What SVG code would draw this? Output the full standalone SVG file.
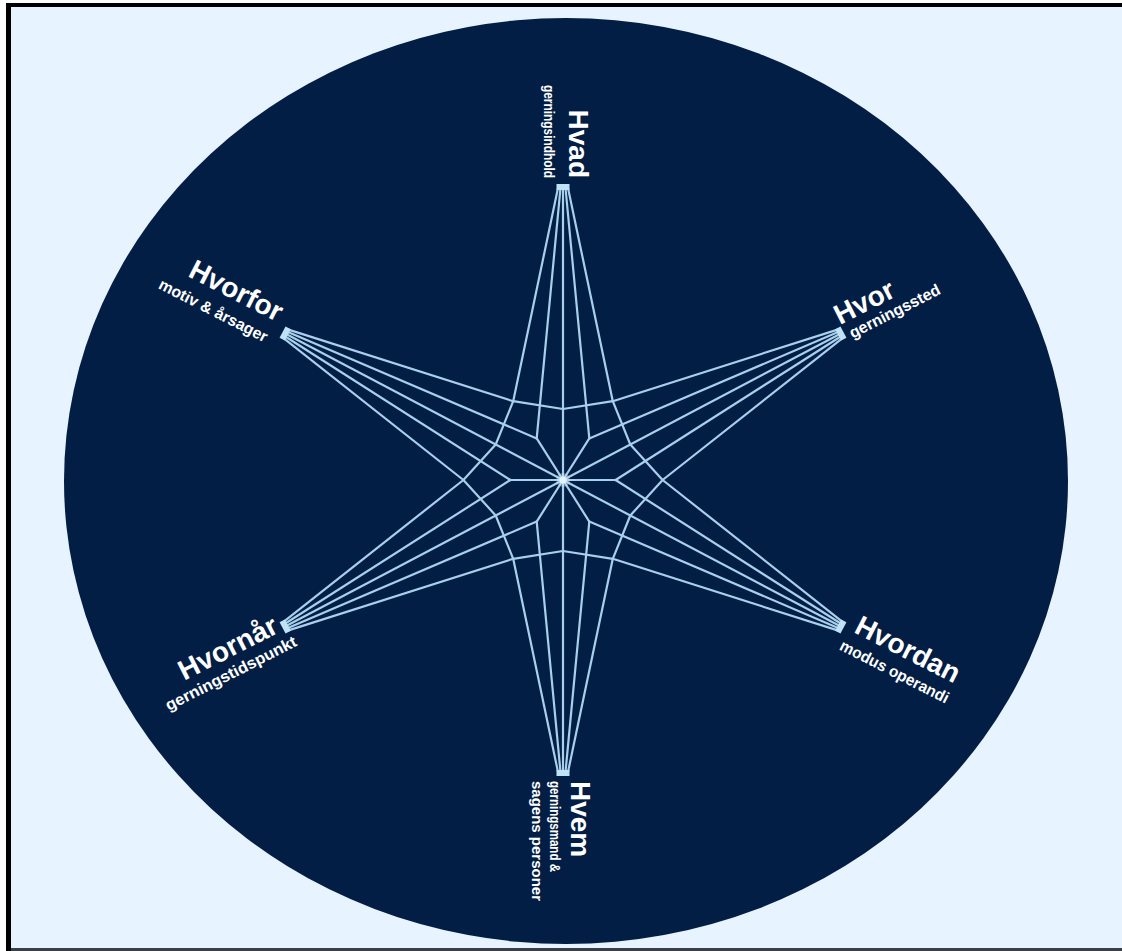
<svg xmlns="http://www.w3.org/2000/svg" width="1122" height="951" viewBox="0 0 1122 951">
<defs>
<style>
.ln{fill:none;stroke:#a8cfec;stroke-width:2.2;stroke-linecap:round;stroke-linejoin:round}
.tipbox{stroke:#bfe2f6;stroke-width:6;stroke-linecap:butt}
.title{font-family:"Liberation Sans",Arial,sans-serif;font-weight:bold;font-size:28px;fill:#ffffff}
.sub{font-family:"Liberation Sans",Arial,sans-serif;font-weight:bold;font-size:16px;fill:#ffffff}
.subv{font-family:"Liberation Sans",Arial,sans-serif;font-weight:bold;font-size:15px;fill:#ffffff}
</style>
</defs>
<rect x="0" y="0" width="1122" height="951" fill="#ffffff"/>
<rect x="11" y="7" width="1111" height="941" fill="#e7f3fe"/>
<rect x="6" y="3" width="1116" height="4" fill="#000000"/>
<rect x="6" y="3" width="5" height="948" fill="#000000"/>
<rect x="11" y="948" width="1111" height="3" fill="#3a3f44"/>
<ellipse id="disc" cx="566" cy="481" rx="502" ry="463" fill="#031e44"/>

<g id="connectors" class="ln">
<path d="M563,480 L563,188 M563,480 L839.9,334 M563,480 L839.9,626 M563,480 L563,772 M563,480 L286.1,626 M563,480 L286.1,334"/>
<path d="M563,480 L615.6,480 M563,480 L589.3,438.4 M563,480 L536.7,438.4 M563,480 L510.4,480 M563,480 L536.7,521.6 M563,480 L589.3,521.6"/>
<path d="M558,188 L513.2,401.2 M560.5,188 L536.7,438.4 M565.5,188 L589.3,438.4 M568,188 L612.8,401.2"/>
<path d="M837.6,329.6 L612.8,401.2 M838.7,331.8 L589.3,438.4 M841.1,336.2 L615.6,480 M842.2,338.4 L662.6,480"/>
<path d="M842.2,621.6 L662.6,480 M841.1,623.8 L615.6,480 M838.7,628.2 L589.3,521.6 M837.6,630.4 L612.8,558.8"/>
<path d="M568,772 L612.8,558.8 M565.5,772 L589.3,521.6 M560.5,772 L536.7,521.6 M558,772 L513.2,558.8"/>
<path d="M288.4,630.4 L513.2,558.8 M287.3,628.2 L536.7,521.6 M284.9,623.8 L510.4,480 M283.8,621.6 L463.4,480"/>
<path d="M283.8,338.4 L463.4,480 M284.9,336.2 L510.4,480 M287.3,331.8 L536.7,438.4 M288.4,329.6 L513.2,401.2"/>
<path d="M662.6,480 L630.3,444.5 L612.8,401.2 L563,409 L513.2,401.2 L495.7,444.5 L463.4,480 L495.7,515.5 L513.2,558.8 L563,551 L612.8,558.8 L630.3,515.5 Z"/>
</g>
<g id="hub">
<circle cx="563" cy="480" r="7" fill="#cfeaff" opacity="0.35"/>
<circle cx="563" cy="480" r="3.5" fill="#e4f5ff"/>
</g>

<g id="node-hvad">
<line class="tipbox" x1="556.5" y1="187" x2="569.5" y2="187"/>
<g transform="translate(569,178) rotate(90)">
<text class="title" text-anchor="end">Hvad</text>
<text class="subv" y="25" text-anchor="end" textLength="93" lengthAdjust="spacingAndGlyphs">gerningsindhold</text>
</g>
</g>

<g id="node-hvor">
<line class="tipbox" x1="837.8" y1="327.8" x2="843.8" y2="339.2"/>
<g transform="translate(840,325) rotate(-27)">
<text class="title">Hvor</text>
<text class="sub" x="5" y="18" textLength="100" lengthAdjust="spacingAndGlyphs">gerningssted</text>
</g>
</g>

<g id="node-hvordan">
<line class="tipbox" x1="843.8" y1="620.8" x2="837.8" y2="632.2"/>
<g transform="translate(853,632) rotate(27)">
<text class="title">Hvordan</text>
<text class="sub" x="-5" y="22" textLength="120" lengthAdjust="spacingAndGlyphs">modus operandi</text>
</g>
</g>

<g id="node-hvem">
<line class="tipbox" x1="556.5" y1="773" x2="569.5" y2="773"/>
<g transform="translate(571,781) rotate(90)">
<text class="title">Hvem</text>
<text class="subv" y="21" textLength="91" lengthAdjust="spacingAndGlyphs">gerningsmand &amp;</text>
<text class="subv" y="39" textLength="120" lengthAdjust="spacingAndGlyphs">sagens personer</text>
</g>
</g>

<g id="node-hvornaar">
<line class="tipbox" x1="288.2" y1="632.2" x2="282.2" y2="620.8"/>
<g transform="translate(280,632) rotate(-27)">
<text class="title" text-anchor="end">Hvornår</text>
<text class="sub" x="10" y="20" text-anchor="end" textLength="145" lengthAdjust="spacingAndGlyphs">gerningstidspunkt</text>
</g>
</g>

<g id="node-hvorfor">
<line class="tipbox" x1="282.2" y1="339.2" x2="288.2" y2="327.8"/>
<g transform="translate(277,322) rotate(27)">
<text class="title" text-anchor="end">Hvorfor</text>
<text class="sub" x="-2" y="24" text-anchor="end" textLength="120" lengthAdjust="spacingAndGlyphs">motiv &amp; årsager</text>
</g>
</g>
</svg>
